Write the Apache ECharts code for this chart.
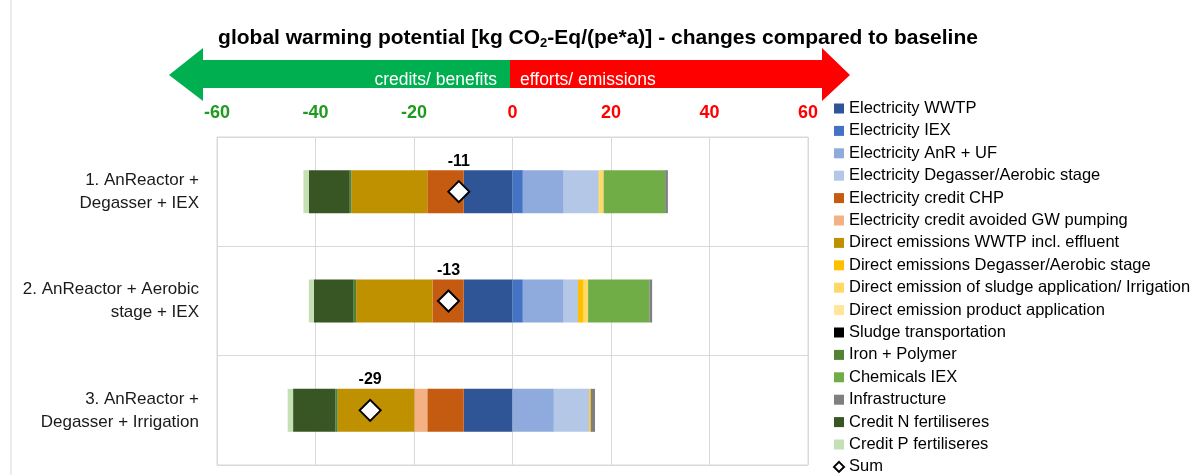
<!DOCTYPE html>
<html>
<head>
<meta charset="utf-8">
<script src="https://cdn.jsdelivr.net/npm/echarts@6/dist/echarts.min.js"></script>
<style>
  html, body { margin: 0; padding: 0; background: #fff; }
  #chart { width: 1200px; height: 475px; }
</style>
</head>
<body>
<div id="chart"></div>
<script>
// scenarios, top to bottom
const categories = [
  '1. AnReactor +\nDegasser + IEX',
  '2. AnReactor + Aerobic\nstage + IEX',
  '3. AnReactor +\nDegasser + Irrigation'
];
const xTicks = [-60, -40, -20, 0, 20, 40, 60];

// values per scenario [kg CO2-Eq/(pe*a)]
const electricityWWTP = [-9.9, -9.9, -9.9];
const electricityIEX = [2.1, 2.1, 0];
const electricityAnRUF = [8.3, 8.3, 8.4];
const electricityDegasser = [7.1, 2.9, 7.2];
const creditCHP = [-7.4, -6.35, -7.4];
const creditGWPumping = [0, 0, -2.6];
const directWWTP = [-15.4, -15.5, -15.6];
const directDegasser = [0.15, 1.15, 0.3];
const directSludgeIrrigation = [0.85, 0.9, 0];
const directProduct = [0, 0, 0];
const sludgeTransport = [0, 0, 0];
const ironPolymer = [-0.35, -0.5, -0.45];
const chemicalsIEX = [12.5, 12.45, 0];
const infrastructure = [0.55, 0.55, 0.85];
const creditN = [-8.3, -8.1, -8.6];
const creditP = [-1.1, -1.0, -1.1];
const sums = [-10.9, -13.0, -28.9];

const parts = [
  ['Electricity WWTP', electricityWWTP, '#2F5597'],
  ['Electricity IEX', electricityIEX, '#4472C4'],
  ['Electricity AnR + UF', electricityAnRUF, '#8FAADC'],
  ['Electricity Degasser/Aerobic stage', electricityDegasser, '#B4C7E7'],
  ['Electricity credit CHP', creditCHP, '#C55A11'],
  ['Electricity credit avoided GW pumping', creditGWPumping, '#F4B183'],
  ['Direct emissions WWTP incl. effluent', directWWTP, '#BF9000'],
  ['Direct emissions Degasser/Aerobic stage', directDegasser, '#FFC000'],
  ['Direct emission of sludge application/ Irrigation', directSludgeIrrigation, '#FFD966'],
  ['Direct emission product application', directProduct, '#FFE699'],
  ['Sludge transportation', sludgeTransport, '#000000'],
  ['Iron + Polymer', ironPolymer, '#548235'],
  ['Chemicals IEX', chemicalsIEX, '#70AD47'],
  ['Infrastructure', infrastructure, '#7F7F7F'],
  ['Credit N fertiliseres', creditN, '#375623'],
  ['Credit P fertiliseres', creditP, '#C5E0B4']
];

const chart = echarts.init(document.getElementById('chart'), null, { renderer: 'canvas' });

const font = 'Liberation Sans, Arial, sans-serif';

const series = parts.map(function (p) {
  return {
    name: p[0],
    type: 'bar',
    stack: 'total',
    barWidth: 43,
    data: p[1],
    itemStyle: { color: p[2] },
    emphasis: { disabled: true }
  };
});

series.push({
  name: 'Sum',
  type: 'scatter',
  symbol: 'diamond',
  symbolSize: 21,
  z: 5,
  itemStyle: { color: '#fff', borderColor: '#000', borderWidth: 2, opacity: 1 },
  label: {
    show: true,
    position: 'top',
    distance: 11,
    formatter: function (p) { return Math.round(p.value[0]); },
    color: '#000',
    fontWeight: 'bold',
    fontSize: 16,
    fontFamily: font
  },
  data: sums.map(function (v, i) { return [v, i]; })
});

const legendData = parts.map(function (p) {
  return { name: p[0], icon: 'rect' };
});
legendData.push({ name: 'Sum', icon: 'diamond', itemStyle: { color: '#fff', borderColor: '#000', borderWidth: 2 } });

const option = {
  animation: false,
  title: {
    text: '{a|global warming potential [kg CO}{s|2}{a|-Eq/(pe*a)] - changes compared to baseline}',
    left: 593,
    top: 19,
    textAlign: 'center',
    textStyle: {
      rich: {
        a: { fontSize: 21, fontWeight: 'bold', color: '#000', fontFamily: font, lineHeight: 28 },
        s: { fontSize: 13, fontWeight: 'bold', color: '#000', fontFamily: font, lineHeight: 28, padding: [11, 0, 0, 0] }
      }
    }
  },
  legend: {
    orient: 'vertical',
    left: 833,
    top: 100,
    height: 420,
    padding: 0,
    itemWidth: 10,
    itemHeight: 10,
    itemGap: 5.4,
    data: legendData,
    textStyle: { fontSize: 16.5, lineHeight: 16, color: '#000', fontFamily: font }
  },
  grid: {
    left: 217,
    right: 392,
    top: 137,
    bottom: 10,
    show: true,
    borderColor: '#d9d9d9',
    borderWidth: 1
  },
  xAxis: {
    type: 'value',
    position: 'top',
    min: -60,
    max: 60,
    interval: 20,
    axisLine: { show: false },
    axisTick: { show: false },
    splitLine: { lineStyle: { color: '#d9d9d9' } },
    axisLabel: {
      margin: 15,
      fontSize: 18,
      fontWeight: 'bold',
      fontFamily: font,
      color: function (v) { return v < 0 ? '#1E9B1E' : '#FF0000'; },
      formatter: function (v) { return xTicks.indexOf(v) >= 0 ? String(v) : ''; }
    }
  },
  yAxis: {
    type: 'category',
    data: categories,
    inverse: true,
    axisLine: { show: false },
    axisTick: { show: false },
    splitLine: { show: true, lineStyle: { color: '#d9d9d9' } },
    axisLabel: {
      margin: 18,
      fontSize: 17,
      lineHeight: 23,
      align: 'right',
      color: '#1a1a1a',
      fontFamily: font
    }
  },
  graphic: [
    {
      type: 'line',
      shape: { x1: 11, y1: 0, x2: 11, y2: 475 },
      style: { stroke: '#d9d9d9', lineWidth: 1 }
    },
    {
      type: 'polygon',
      shape: { points: [[169, 75], [203, 48], [203, 60], [510, 60], [510, 88], [203, 88], [203, 101]] },
      style: { fill: '#00B050' }
    },
    {
      type: 'polygon',
      shape: { points: [[510, 60], [822, 60], [822, 48], [850, 75], [822, 101], [822, 88], [510, 88]] },
      style: { fill: '#FF0000' }
    },
    {
      type: 'text',
      x: 497, y: 80,
      style: { text: 'credits/ benefits', fill: '#fff', fontSize: 17.5, fontFamily: font, align: 'right', verticalAlign: 'middle' }
    },
    {
      type: 'text',
      x: 520, y: 80,
      style: { text: 'efforts/ emissions', fill: '#fff', fontSize: 17.5, fontFamily: font, align: 'left', verticalAlign: 'middle' }
    }
  ],
  series: series
};

chart.setOption(option);
</script>
</body>
</html>
